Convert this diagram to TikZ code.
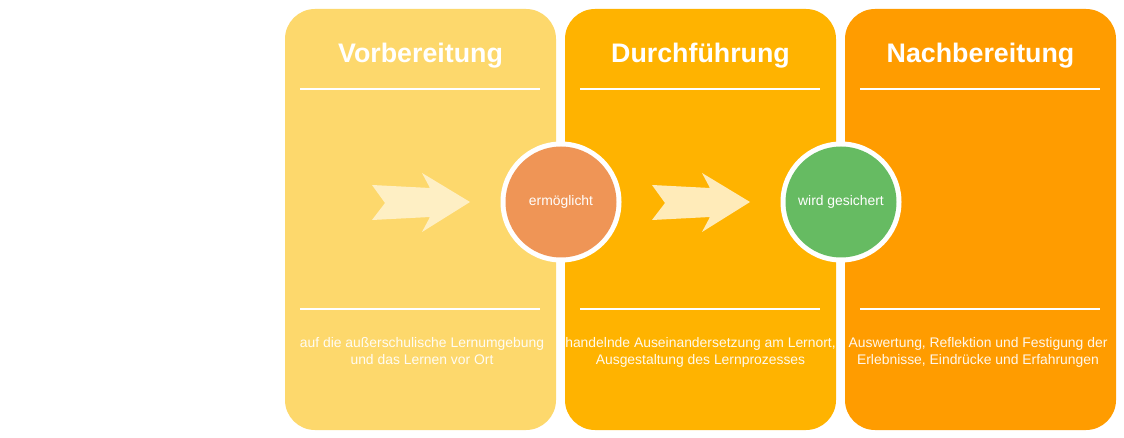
\documentclass[tikz,border=0pt]{standalone}
\usepackage{fontspec}
\setmainfont{Liberation Sans}
\definecolor{boxA}{HTML}{FDD86C}
\definecolor{boxB}{HTML}{FFB300}
\definecolor{boxC}{HTML}{FF9C00}
\definecolor{circA}{HTML}{EF9556}
\definecolor{circB}{HTML}{66BB62}
\definecolor{arrowfill}{HTML}{FFF2CE}
\begin{document}
\begin{tikzpicture}[x=1pt,y=-1pt,
  phase/.style={rounded corners=30pt, draw=none},
  title/.style={text=white, font=\fontsize{26.8}{30}\selectfont\bfseries, anchor=center},
  desc/.style={text=white, font=\fontsize{13.9}{16.5}\selectfont, align=center, anchor=north, text opacity=0.92},
  sep/.style={draw=white, line width=1.6pt},
  ring/.style={circle, fill=white, minimum size=121pt, inner sep=0pt},
  inner/.style={circle, minimum size=111pt, inner sep=0pt, text=white, font=\fontsize{13.9}{16}\selectfont},
  chev/.style={fill=arrowfill, fill opacity=0.9, draw=none}
]
\useasboundingbox (0,0) rectangle (1124,438);
\fill[white] (0,0) rectangle (1124,438);

% phase boxes
\fill[phase, boxA] (285,9) rectangle (556,430);
\fill[phase, boxB] (565,9) rectangle (836,430);
\fill[phase, boxC] (845,9) rectangle (1116,430);

% titles
\node[title] (t1) at (420.5,56) {Vorbereitung};
\node[title] (t2) at (700.5,56) {Durchführung};
\node[title] (t3) at (980.5,56) {Nachbereitung};

% separator lines
\coordinate (a1) at (300,89);  \coordinate (b1) at (540,89);
\coordinate (a2) at (580,89);  \coordinate (b2) at (820,89);
\coordinate (a3) at (860,89);  \coordinate (b3) at (1100,89);
\coordinate (c1) at (300,309); \coordinate (d1) at (540,309);
\coordinate (c2) at (580,309); \coordinate (d2) at (820,309);
\coordinate (c3) at (860,309); \coordinate (d3) at (1100,309);
\draw[sep] (a1) -- (b1);
\draw[sep] (a2) -- (b2);
\draw[sep] (a3) -- (b3);
\draw[sep] (c1) -- (d1);
\draw[sep] (c2) -- (d2);
\draw[sep] (c3) -- (d3);

% descriptions
\node[desc] (d1t) at (422,334) {auf die außerschulische Lernumgebung\\und das Lernen vor Ort};
\node[desc] (d2t) at (700.5,334) {handelnde Auseinandersetzung am Lernort,\\Ausgestaltung des Lernprozesses};
\node[desc] (d3t) at (978,334) {Auswertung, Reflektion und Festigung der\\Erlebnisse, Eindrücke und Erfahrungen};

% chevron arrows
\fill[chev] (372,185) -- (430,188) -- (422,173) -- (470,202) -- (422,232) -- (430,217) -- (372,220) -- (385,203) -- cycle;
\fill[chev] (652,185) -- (710,188) -- (702,173) -- (750,202) -- (702,232) -- (710,217) -- (652,220) -- (665,203) -- cycle;

% circles
\node[ring] (r1) at (561,202) {};
\node[inner, fill=circA] (c1n) at (561,202) {ermöglicht};
\node[ring] (r2) at (841,202) {};
\node[inner, fill=circB] (c2n) at (841,202) {wird gesichert};
\end{tikzpicture}
\end{document}
